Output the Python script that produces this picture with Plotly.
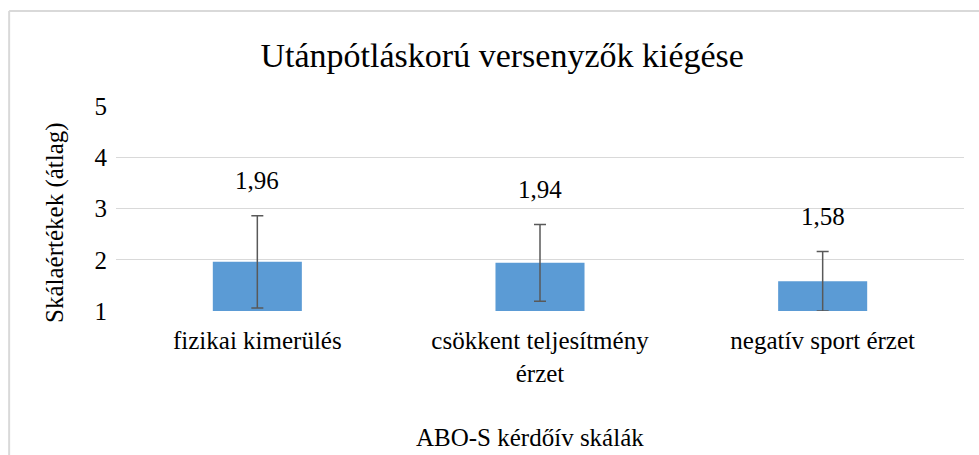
import plotly.graph_objects as go

categories = ["fizikai kimerülés", "csökkent teljesítmény<br>érzet", "negatív sport érzet"]
means = [1.96, 1.94, 1.58]
sd = [0.90, 0.75, 0.58]
y_ticks = [1, 2, 3, 4, 5]

font = "Times New Roman, Liberation Serif, serif"

fig = go.Figure()
fig.add_trace(go.Bar(
    x=categories, y=means,
    marker=dict(color="#5b9bd5", line=dict(width=0)),
    error_y=dict(type="data", array=sd, visible=True, color="#595959", thickness=1.5, width=6),
))

# data labels sit above the error bars
for c, m, s in zip(categories, means, sd):
    fig.add_annotation(x=c, y=m + s, text=f"{m:.2f}".replace(".", ","), showarrow=False,
                       yshift=35, font=dict(size=25, color="black", family=font))

fig.add_annotation(x=0.488, y=-0.615, xref="paper", yref="paper", text="ABO-S kérdőív skálák",
                   showarrow=False, yanchor="middle", font=dict(size=25, color="black", family=font))
fig.add_annotation(x=-0.072, y=0.434, xref="paper", yref="paper", text="Skálaértékek (átlag)",
                   textangle=-90, showarrow=False, xanchor="center", yanchor="middle",
                   font=dict(size=25, color="black", family=font))

# chart area border (only top and left edges visible)
fig.add_shape(type="line", xref="paper", yref="paper", x0=-0.126, x1=1.05, y0=1.463, y1=1.463,
              line=dict(color="#d9d9d9", width=2))
fig.add_shape(type="line", xref="paper", yref="paper", x0=-0.126, x1=-0.126, y0=1.463, y1=-0.8,
              line=dict(color="#d9d9d9", width=2))

fig.update_layout(
    width=979, height=455,
    margin=dict(l=116, r=15, t=106, b=144),
    paper_bgcolor="white", plot_bgcolor="white",
    bargap=0.685, showlegend=False,
    font=dict(family=font, color="black", size=25),
    title=dict(text="Utánpótláskorú versenyzők kiégése", x=0.513, xanchor="center",
               y=0.879, yanchor="middle", font=dict(size=34, color="black", family=font)),
    xaxis=dict(showline=False, ticks="", tickfont=dict(size=25, family=font), ticklabelstandoff=12),
    yaxis=dict(range=[1, 5], tickvals=y_ticks, showgrid=True, gridcolor="#d9d9d9", gridwidth=1,
               zeroline=False, showline=False, ticks="", tickfont=dict(size=25, family=font),
               ticklabelstandoff=8),
)

fig.write_html("out.html", config={"displayModeBar": False},
               post_script="document.body.style.margin='0';")
